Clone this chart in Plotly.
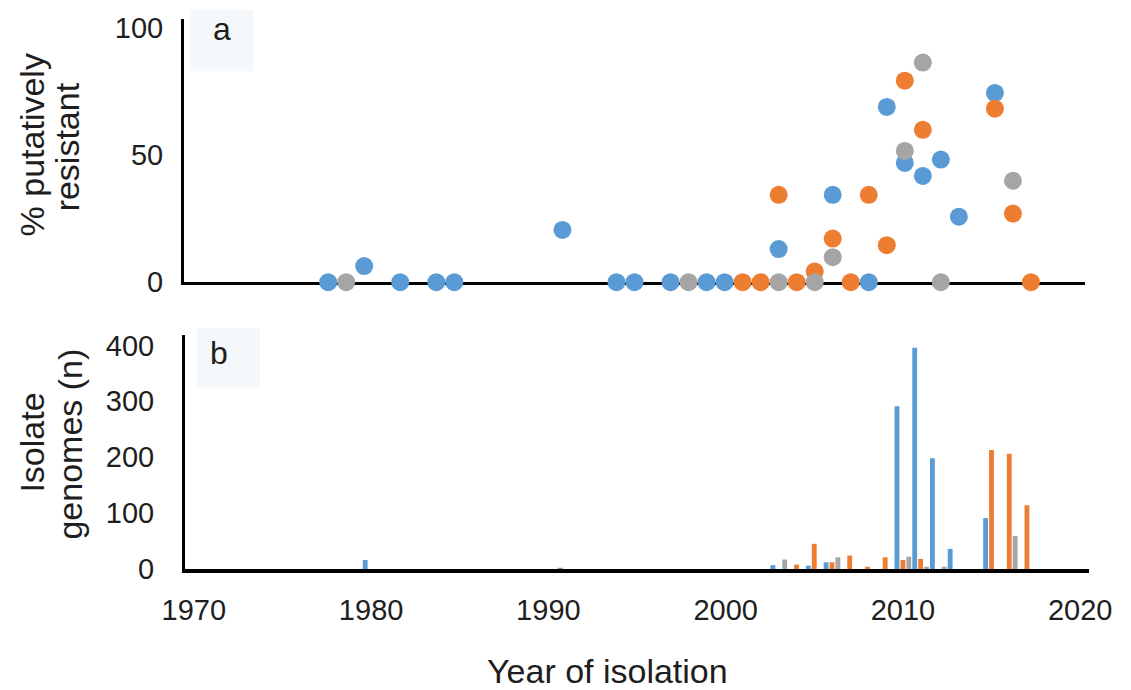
import plotly.graph_objects as go

# ---------------- data ----------------
# Panel a: % putatively resistant by year of isolation (three series)
blue_years_a = [1978, 1980, 1982, 1984, 1985, 1991, 1994, 1995, 1997, 1999, 2000,
                2003, 2006, 2008, 2009, 2010, 2011, 2012, 2013, 2015]
blue_pct_a = [0, 6.3, 0, 0, 0, 20.5, 0, 0, 0, 0, 0,
              13, 34.3, 0, 68.8, 46.8, 41.7, 48.1, 25.7, 74.3]

orange_years_a = [2001, 2002, 2003, 2004, 2005, 2006, 2007, 2008, 2009, 2010, 2011,
                  2015, 2016, 2017]
orange_pct_a = [0, 0, 34.3, 0, 4.2, 17.1, 0, 34.3, 14.5, 79.1, 59.8,
                68.1, 26.9, 0]

gray_years_a = [1979, 1998, 2003, 2005, 2006, 2010, 2011, 2012, 2016]
gray_pct_a = [0, 0, 0, 0, 9.8, 51.5, 86.2, 0, 39.8]

# Panel b: number of isolate genomes per year
blue_years_b = [1980, 1991, 2003, 2005, 2006, 2010, 2011, 2012, 2013, 2015]
blue_n_b = [16, 2, 7, 6, 12, 291, 396, 198, 36, 91]

orange_years_b = [2004, 2005, 2006, 2007, 2008, 2009, 2010, 2011, 2015, 2016, 2017]
orange_n_b = [8, 45, 12, 24, 4, 21, 16, 18, 213, 206, 114]

gray_years_b = [2003, 2006, 2010, 2011, 2012, 2016]
gray_n_b = [17, 21, 22, 4, 4, 59]

x_ticks = [1970, 1980, 1990, 2000, 2010, 2020]
ya_ticks = [0, 50, 100]
yb_ticks = [0, 100, 200, 300, 400]

# ---------------- style ----------------
BLUE = "#5B9BD5"
ORANGE = "#ED7D31"
GRAY = "#A5A5A5"
TXT = "#1e1e1e"
FONT = "Liberation Sans, Arial, sans-serif"

W, H = 1131, 690
L, R, T, B = 184, 42, 12, 121
PW = W - L - R
PH = H - T - B


def px(x):
    return (x - L) / PW


def py(y):
    return (H - B - y) / PH


fig = go.Figure()

for yrs, vals, col in [(blue_years_a, blue_pct_a, BLUE),
                       (orange_years_a, orange_pct_a, ORANGE),
                       (gray_years_a, gray_pct_a, GRAY)]:
    fig.add_trace(go.Scatter(x=yrs, y=vals, mode="markers", xaxis="x", yaxis="y",
                             marker=dict(size=18, color=col, line=dict(width=0)),
                             cliponaxis=False, showlegend=False))

for yrs, vals, col in [(blue_years_b, blue_n_b, BLUE),
                       (orange_years_b, orange_n_b, ORANGE),
                       (gray_years_b, gray_n_b, GRAY)]:
    fig.add_trace(go.Bar(x=yrs, y=vals, xaxis="x2", yaxis="y2",
                         marker=dict(color=col, line=dict(width=0)),
                         showlegend=False))

tickfont = dict(family=FONT, size=29, color=TXT)

fig.update_layout(
    width=W, height=H,
    margin=dict(l=L, r=R, t=T, b=B, pad=0),
    paper_bgcolor="white", plot_bgcolor="rgba(0,0,0,0)",
    barmode="group", bargap=0.0, bargroupgap=0.18,
    font=dict(family=FONT, color=TXT),
    xaxis=dict(domain=[0, px(1085)], range=[1970, 2020], anchor="y",
               showgrid=False, zeroline=False, showline=True, linecolor="black",
               linewidth=3, showticklabels=False, ticks="", layer="below traces"),
    yaxis=dict(domain=[py(278.5), 1], range=[0, 103.3], anchor="x",
               showgrid=False, zeroline=False, showline=True, linecolor="black",
               linewidth=3, tickvals=ya_ticks, ticks="outside", ticklen=12,
               tickcolor="rgba(0,0,0,0)", tickfont=tickfont, layer="below traces"),
    xaxis2=dict(domain=[px(185), 1], range=[1969.5, 2020.5], anchor="y2",
                showgrid=False, zeroline=False, showline=True, linecolor="black",
                linewidth=4, tickvals=x_ticks, ticks="outside", ticklen=12,
                tickcolor="rgba(0,0,0,0)", tickfont=tickfont, layer="below traces"),
    yaxis2=dict(domain=[0, py(331.8)], range=[0, 419], anchor="x2",
                showgrid=False, zeroline=False, showline=True, linecolor="black",
                linewidth=3, tickvals=yb_ticks, ticks="outside", ticklen=22,
                tickcolor="rgba(0,0,0,0)", tickfont=tickfont, layer="below traces"),
)

# faint label boxes behind panel letters
for x0, y0, x1, y1 in [(190, 3, 253, 65), (197, 325, 260, 385)]:
    fig.add_shape(type="rect", xref="paper", yref="paper",
                  x0=px(x0), x1=px(x1), y0=py(y1), y1=py(y0),
                  fillcolor="#F5F8FB", line=dict(width=0), layer="below")

ann = []
title_font = dict(family=FONT, size=34, color=TXT)
ann.append(dict(text="a", x=px(222), y=py(22), font=dict(family=FONT, size=32, color=TXT)))
ann.append(dict(text="b", x=px(219), y=py(350), font=dict(family=FONT, size=32, color=TXT)))
ann.append(dict(text="% putatively", x=px(32), y=py(140), textangle=-90, font=title_font))
ann.append(dict(text="resistant", x=px(67), y=py(142), textangle=-90, font=title_font))
ann.append(dict(text="Isolate", x=px(32), y=py(441), textangle=-90, font=title_font))
ann.append(dict(text="genomes (n)", x=px(70), y=py(443), textangle=-90, font=title_font))
ann.append(dict(text="Year of isolation", x=px(607), y=py(672), font=title_font))
for a in ann:
    a.update(xref="paper", yref="paper", showarrow=False, xanchor="center", yanchor="middle")
fig.update_layout(annotations=ann)

fig.write_html("out.html",
               config={"displayModeBar": False},
               post_script="document.body.style.margin='0';document.body.style.overflow='hidden';")
